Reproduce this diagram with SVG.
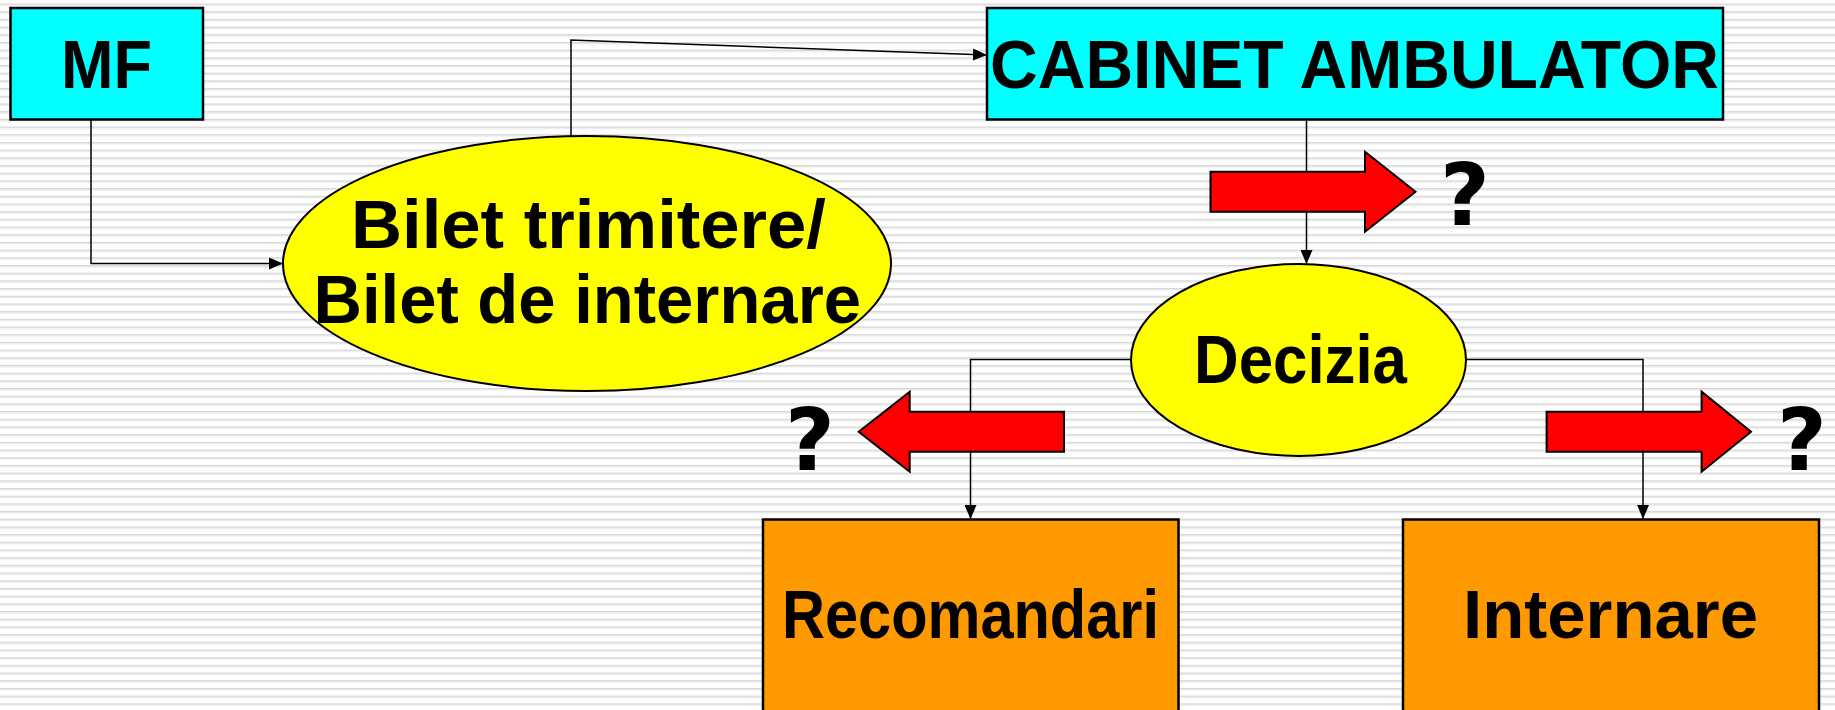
<svg xmlns="http://www.w3.org/2000/svg" width="1835" height="710" viewBox="0 0 1835 710">
  <defs>
    <pattern id="stripes" x="0" y="3.5" width="20" height="7.69" patternUnits="userSpaceOnUse">
      <rect x="0" y="0" width="20" height="7.69" fill="#ffffff"/>
      <rect x="0" y="0" width="20" height="1" fill="#d6d6d6"/>
      <rect x="0" y="1" width="20" height="1.4" fill="#e8e8e8"/>
    </pattern>
    <marker id="arr" viewBox="0 0 14 12" refX="14" refY="6" markerWidth="14" markerHeight="12" markerUnits="userSpaceOnUse" orient="auto">
      <path d="M0,0 L14,6 L0,12 Z" fill="#000"/>
    </marker>
    <style>
      .box { stroke: #000; stroke-width: 2.5; }
      .ell { stroke: #000; stroke-width: 2; }
      .lbl { font-family: "Liberation Sans", Arial, sans-serif; font-weight: bold; font-size: 68px; fill: #000; }
      .q { font-family: "DejaVu Sans", "Liberation Sans", sans-serif; font-weight: bold; font-size: 86px; fill: #000; }
      .conn { fill: none; stroke: #000; stroke-width: 1.5; }
      .red { fill: #ff0000; stroke: #000; stroke-width: 2; stroke-linejoin: miter; }
    </style>
  </defs>

  <rect x="0" y="0" width="1835" height="710" fill="url(#stripes)"/>

  <g id="connectors">
    <polyline class="conn" points="91,120 91,263.5 283,263.5" marker-end="url(#arr)"/>
    <polyline class="conn" points="571,136 571,40 987,55" marker-end="url(#arr)"/>
    <line class="conn" x1="1306.5" y1="120" x2="1306.5" y2="264" marker-end="url(#arr)"/>
    <polyline class="conn" points="1131,359.5 970.5,359.5 970.5,519" marker-end="url(#arr)"/>
    <polyline class="conn" points="1466,359.5 1643,359.5 1643,519" marker-end="url(#arr)"/>
  </g>

  <g id="node-mf">
    <rect class="box" x="10.5" y="8" width="192.5" height="111.5" fill="#00ffff"/>
    <text class="lbl" x="61" y="88" textLength="91" lengthAdjust="spacingAndGlyphs">MF</text>
  </g>

  <g id="node-cabinet">
    <rect class="box" x="987" y="8" width="736" height="111.5" fill="#00ffff"/>
    <text class="lbl" x="990" y="88" textLength="729" lengthAdjust="spacingAndGlyphs">CABINET AMBULATOR</text>
  </g>

  <g id="node-bilet">
    <ellipse class="ell" cx="587" cy="263.5" rx="304" ry="127.5" fill="#ffff00"/>
    <text class="lbl" x="351" y="248" textLength="475" lengthAdjust="spacingAndGlyphs">Bilet trimitere/</text>
    <text class="lbl" x="313.5" y="323" textLength="547.5" lengthAdjust="spacingAndGlyphs">Bilet de internare</text>
  </g>

  <g id="node-decizia">
    <ellipse class="ell" cx="1298.5" cy="360" rx="167.5" ry="96" fill="#ffff00"/>
    <text class="lbl" x="1194" y="383" textLength="213" lengthAdjust="spacingAndGlyphs">Decizia</text>
  </g>

  <g id="node-recomandari">
    <rect class="box" x="763" y="519.5" width="415.5" height="200" fill="#ff9900"/>
    <text class="lbl" x="782" y="638" textLength="377" lengthAdjust="spacingAndGlyphs">Recomandari</text>
  </g>

  <g id="node-internare">
    <rect class="box" x="1403" y="519.5" width="416" height="200" fill="#ff9900"/>
    <text class="lbl" x="1463" y="638" textLength="295" lengthAdjust="spacingAndGlyphs">Internare</text>
  </g>

  <g id="arrow-top">
    <polygon class="red" points="1210.5,171.7 1365,171.7 1365,151.7 1415.5,191.7 1365,231.7 1365,211.7 1210.5,211.7"/>
    <text class="q" x="1440" y="225">?</text>
  </g>

  <g id="arrow-left">
    <polygon class="red" points="1064,411.7 909.7,411.7 909.7,391.7 858.7,431.7 909.7,471.7 909.7,451.7 1064,451.7"/>
    <text class="q" x="785" y="470">?</text>
  </g>

  <g id="arrow-right">
    <polygon class="red" points="1546.6,411.7 1701.6,411.7 1701.6,391.7 1751,431.7 1701.6,471.7 1701.6,451.7 1546.6,451.7"/>
    <text class="q" x="1777" y="470">?</text>
  </g>
</svg>
